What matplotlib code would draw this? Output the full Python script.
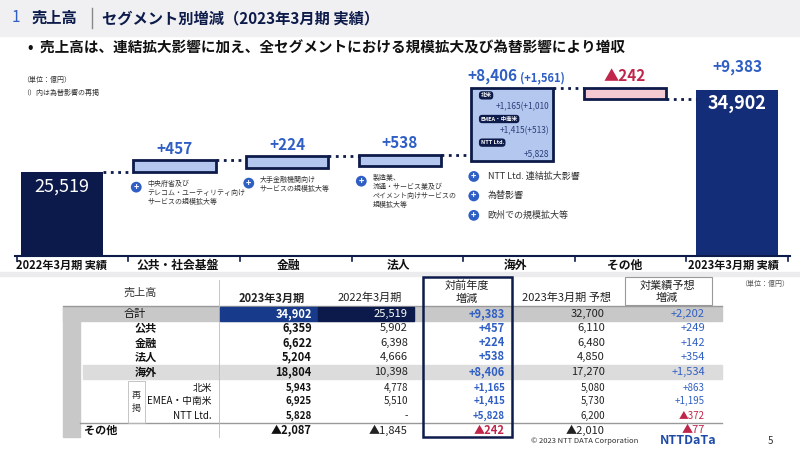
import matplotlib
matplotlib.use("Agg")
import matplotlib.pyplot as plt
from matplotlib.patches import Rectangle

plt.rcParams['font.family'] = ['Noto Sans CJK JP', 'DejaVu Sans']

# ---- data ----
categories = ["2022年3月期 実績", "公共・社会基盤", "金融", "法人", "海外", "その他", "2023年3月期 実績"]
start_total = 25519
deltas = [457, 224, 538, 8406, -242]
end_total = 34902
delta_labels = ["+457", "+224", "+538", "+8,406", "▲242"]
fx_note = "(+1,561)"
overseas_items = [("北米", "+1,165(+1,010"), ("EMEA・中南米", "+1,415(+513)"), ("NTT Ltd.", "+5,828")]
notes = {
    1: ["中央府省及び\nテレコム・ユーティリティ向け\nサービスの規模拡大等"],
    2: ["大手金融機関向け\nサービスの規模拡大等"],
    3: ["製造業、\n流通・サービス業及び\nペイメント向けサービスの\n規模拡大等"],
    4: ["NTT Ltd. 連結拡大影響", "為替影響", "欧州での規模拡大等"],
}

tbl_cols = ["2023年3月期", "2022年3月期", "対前年度\n増減", "2023年3月期 予想", "対業績予想\n増減"]
tbl_rows = ["合計", "公共", "金融", "法人", "海外", "北米", "EMEA・中南米", "NTT Ltd.", "その他"]
fy23 = ["34,902", "6,359", "6,622", "5,204", "18,804", "5,943", "6,925", "5,828", "▲2,087"]
fy22 = ["25,519", "5,902", "6,398", "4,666", "10,398", "4,778", "5,510", "-", "▲1,845"]
yoy = ["+9,383", "+457", "+224", "+538", "+8,406", "+1,165", "+1,415", "+5,828", "▲242"]
fcst = ["32,700", "6,110", "6,480", "4,850", "17,270", "5,080", "5,730", "6,200", "▲2,010"]
vsf = ["+2,202", "+249", "+142", "+354", "+1,534", "+863", "+1,195", "▲372", "▲77"]

NAVY = "#0d1b4a"
BLUE = "#2f5fc4"
RED = "#c0254a"
BOXBLUE = "#b4c7ee"
PINK = "#f4c9d2"

W, H = 800, 450
fig = plt.figure(figsize=(8, 4.5), dpi=100)
def fx(x): return x / W
def fy(y): return 1 - y / H

# header band
fig.patches.append(Rectangle((0, fy(36)), 1, 36 / H, transform=fig.transFigure, color="#f0f0f2", zorder=0))
fig.text(fx(12), fy(18), "1", color=BLUE, fontsize=11, va="center")
fig.text(fx(32), fy(18), "売上高", color=NAVY, fontsize=11, fontweight="bold", va="center")
fig.add_artist(plt.Line2D([fx(92), fx(92)], [fy(8), fy(28)], color="#888888", lw=1, transform=fig.transFigure))
fig.text(fx(102), fy(18), "セグメント別増減（2023年3月期 実績）", color=NAVY, fontsize=11, fontweight="bold", va="center")
fig.text(fx(28), fy(48), "•  売上高は、連結拡大影響に加え、全セグメントにおける規模拡大及び為替影響により増収",
         color="#111111", fontsize=10.5, fontweight="bold", va="center")
fig.text(fx(22), fy(80), "（単位：億円）", fontsize=5, va="center", color="#333")
fig.text(fx(22), fy(93), "（）内は為替影響の再掲", fontsize=5, va="center", color="#333")

# ---- waterfall ----
ax = fig.add_axes([fx(15), fy(256), 775 / W, 196 / H])
ax.set_xlim(-0.418, 6.47)
ax.set_ylim(15906, 38300)
ax.axis("off")
bw = 0.73
MINH = 1300
ax.bar(0, start_total - 15906, bottom=15906, width=bw, color="#0b1a4a")
ax.bar(6, end_total - 15906, bottom=15906, width=bw, color="#142d78")
ax.text(0, start_total - 700, f"{start_total:,}", color="white", fontsize=13, ha="center", va="top")
ax.text(6, end_total - 500, f"{end_total:,}", color="white", fontsize=13, fontweight="bold", ha="center", va="top")

level = start_total
tops = []
prev_top = start_total
for i, d in enumerate(deltas):
    x = i + 1
    if d >= 0:
        bottom = level
        h = max(d, MINH)
        top = bottom + h
        fc = BOXBLUE
    else:
        top = level
        h = max(-d, MINH)
        bottom = top - h
        fc = PINK
    level = level + d
    ax.add_patch(Rectangle((x - bw / 2, bottom), bw, h, facecolor=fc, edgecolor=NAVY, lw=2, zorder=3))
    ax.plot([x - 1 + bw / 2, x - bw / 2], [prev_top, prev_top], ls=":", color=NAVY, lw=2)
    prev_top = top
    tops.append((bottom, top))
    col = RED if d < 0 else BLUE
    if x == 4:
        ax.text(x + 0.05, top + 400, delta_labels[i], color=col, fontsize=11, fontweight="bold", ha="right", va="bottom")
        ax.text(x + 0.07, top + 400, fx_note, color=col, fontsize=8, fontweight="bold", ha="left", va="bottom")
    else:
        ax.text(x, top + 400, delta_labels[i], color=col, fontsize=11, fontweight="bold", ha="center", va="bottom")
ax.plot([5 + bw / 2, 6 - bw / 2], [tops[-1][0], tops[-1][0]], ls=":", color=NAVY, lw=2)
ax.text(6, end_total + 1700, "+9,383", color=BLUE, fontsize=11, fontweight="bold", ha="center", va="bottom")

# overseas box contents
ob, ot = tops[3]
for k, (nm, val) in enumerate(overseas_items):
    yy = ot - 600 - k * 2700
    ax.text(4 - 0.28, yy, nm, fontsize=4, color="white", fontweight="bold", ha="left", va="top",
            bbox=dict(boxstyle="round,pad=0.3,rounding_size=0.6", fc=NAVY, ec="none"), zorder=5)
    ax.text(4 + 0.33, yy - 1100, val, fontsize=6, color="#2a3f7a", ha="right", va="top", zorder=5)

# notes
for x, lines in notes.items():
    b = tops[x - 1][0]
    step = 14 if x == 4 else 11
    for j, t in enumerate(lines):
        ax.annotate("+", xy=(x - bw / 2, b), xytext=(2, -11 - j * step), textcoords="offset points",
                    fontsize=6.5, fontweight="bold", color="white", ha="center", va="center",
                    bbox=dict(boxstyle="circle,pad=0.1", fc=BLUE, ec="none"))
        ax.annotate(t, xy=(x - bw / 2, b), xytext=(10 if x != 4 else 12, -6 - j * step if x != 4 else -11 - j * step),
                    textcoords="offset points",
                    fontsize=6.5 if x == 4 else 5.0, color="#333333", ha="left",
                    va="top" if x != 4 else "center", linespacing=1.15)

# baseline & categories
fig.add_artist(plt.Line2D([fx(15), fx(790)], [fy(256), fy(256)], color=NAVY, lw=1.5, transform=fig.transFigure))
for bx in [17, 128, 240, 352, 463, 575, 686, 788]:
    fig.add_artist(plt.Line2D([fx(bx), fx(bx)], [fy(256), fy(261)], color=NAVY, lw=1.2, transform=fig.transFigure))
xc = [62, 178, 289, 398, 515, 625, 733]
for c, x in zip(categories, xc):
    fig.text(fx(x), fy(265), c, fontsize=8 if "期" in c else 8.5, fontweight="bold", ha="center", va="center", color="#111")
fig.patches.append(Rectangle((0, fy(276)), 1, 4 / H, transform=fig.transFigure, color="#ececee", zorder=0))

# ---- table ----
rows_y = [314, 328, 343, 357, 372, 388, 401, 416, 430]
gray = "#c8c8c8"
def rect(x0, y0, x1, y1, **kw):
    fig.patches.append(Rectangle((fx(x0), fy(y1)), (x1 - x0) / W, (y1 - y0) / H, transform=fig.transFigure, **kw))
rect(63, 307, 722, 321, color=gray, zorder=1)
rect(63, 307, 80, 437, color=gray, zorder=1)
rect(83, 365, 722, 379, color="#dcdcdc", zorder=1)
rect(220, 307, 318, 321, color="#173a8a", zorder=2)
rect(318, 307, 414, 321, color="#0b1a4a", zorder=2)
rect(423, 277, 512, 437, fill=False, ec=NAVY, lw=1.8, zorder=5)
rect(625, 277, 712, 305, fill=False, ec="#999", lw=0.8, zorder=5)
rect(128, 381, 145, 423, fill=False, ec="#bbb", lw=0.6, zorder=3)
fig.add_artist(plt.Line2D([fx(63), fx(722)], [fy(306), fy(306)], color="#999", lw=1, transform=fig.transFigure))
fig.add_artist(plt.Line2D([fx(80), fx(722)], [fy(423), fy(423)], color="#999", lw=1, transform=fig.transFigure))
fig.add_artist(plt.Line2D([fx(219), fx(219)], [fy(280), fy(437)], color="#bbb", lw=0.6, transform=fig.transFigure))

fig.text(fx(140), fy(293), "売上高", fontsize=8, ha="center", va="center", color="#333")
hx = [272, 370, 467, 567, 667]
for i, (h, x) in enumerate(zip(tbl_cols, hx)):
    fig.text(fx(x), fy(298 if "\n" not in h else 292), h, fontsize=8, ha="center", va="center",
             fontweight="bold" if i == 0 else "normal", color="#222", linespacing=1.3)
fig.text(fx(765), fy(284), "（単位：億円）", fontsize=5, ha="center", va="center", color="#555")

lab_x = {0: (135, "center"), 1: (135, "left"), 2: (135, "left"), 3: (135, "left"), 4: (135, "left"),
         5: (212, "right"), 6: (212, "right"), 7: (212, "right"), 8: (84, "left")}
for r, (lab, y) in enumerate(zip(tbl_rows, rows_y)):
    x, ha = lab_x[r]
    bold = r in (1, 2, 3, 4, 8)
    small = r in (5, 6, 7)
    fig.text(fx(x), fy(y), lab, fontsize=7 if small else 8, ha=ha, va="center",
             fontweight="bold" if bold else "normal", color="#111")
    fs = 7 if small else 8
    fig.text(fx(312), fy(y), fy23[r], fontsize=fs, ha="right", va="center", fontweight="bold",
             color="white" if r == 0 else "#111", zorder=6)
    fig.text(fx(408), fy(y), fy22[r], fontsize=fs, ha="right", va="center",
             color="white" if r == 0 else "#222", zorder=6)
    fig.text(fx(505), fy(y), yoy[r], fontsize=fs, ha="right", va="center", fontweight="bold",
             color=RED if "▲" in yoy[r] else BLUE, zorder=6)
    fig.text(fx(605), fy(y), fcst[r], fontsize=fs, ha="right", va="center", color="#222", zorder=6)
    fig.text(fx(705), fy(y), vsf[r], fontsize=fs, ha="right", va="center",
             color=RED if "▲" in vsf[r] else BLUE, zorder=6)
fig.text(fx(136.5), fy(402), "再\n掲", fontsize=6.5, ha="center", va="center", color="#333", linespacing=1.6)

fig.text(fx(585), fy(441), "© 2023 NTT DATA Corporation", fontsize=5.5, ha="center", va="center", color="#333")
fig.text(fx(688), fy(441), "NTTDaTa", fontsize=9, ha="center", va="center", color="#1f4aa8", fontweight="bold")
fig.text(fx(770), fy(441), "5", fontsize=7, ha="center", va="center", color="#333")

fig.savefig("out.png", dpi=100)
